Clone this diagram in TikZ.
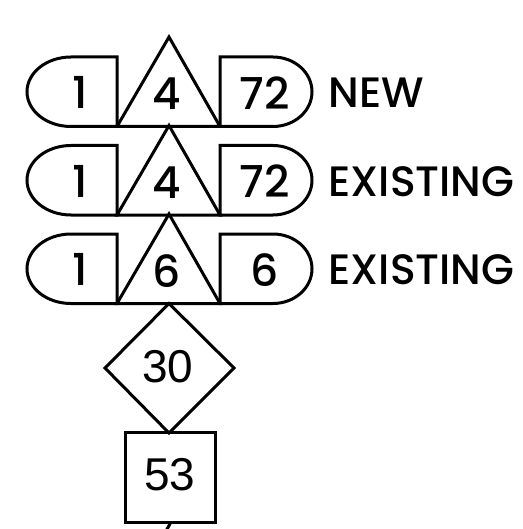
\documentclass[tikz,border=0pt]{standalone}
\usepackage{fontspec}
\setmainfont{Poppins Medium}
\newfontfamily\arialfont{Liberation Sans}
\begin{document}
\begin{tikzpicture}[x=1pt,y=-1pt,line width=3pt,
	num/.style={font=\fontsize{44}{44}\selectfont,inner sep=0pt},
	tag/.style={font=\fontsize{42.5}{42.5}\selectfont,inner sep=0pt,anchor=west},
	ari/.style={font=\arialfont\fontsize{46}{46}\selectfont,inner sep=0pt}]
	\useasboundingbox (0,0) rectangle (522,529);
	\foreach \i/\a/\b/\c/\w in {1/1/4/72/NEW,2/1/4/72/EXISTING,3/1/6/6/EXISTING}{
		\pgfmathsetmacro\t{57+88.5*(\i-1)}
		\pgfmathsetmacro\m{\t+34.75}
		\pgfmathsetmacro\u{\t+69.5}
		\draw (117,\t) -- (71,\t) arc (90:270:44pt and 34.75pt) -- (117,\u) -- cycle; % left cap
		\draw (117,\u) -- (169,\t-20) -- (220,\u) -- cycle;
		\draw (220,\t) -- (273,\t) arc (90:-90:39pt and 34.75pt) -- (220,\u) -- cycle; % right cap
		\node[num] (a\i) at (80,\m+1) {\a};
		\node[num] (b\i) at (167,\m+2) {\b};
		\node[num] (c\i) at (265,\m+1) {\c};
		\node[tag] (w\i) at (327,\m+1) {\w};
	}
	\draw (169,303.5) -- (234,368) -- (169,433) -- (105,368) -- cycle;
	\draw (125,432) rectangle (215,522);
	\draw (171,522) -- (166,531);
	\node[ari] (d) at (168,366.5) {30};
	\node[ari] (s) at (170,475) {53};
\end{tikzpicture}
\end{document}
